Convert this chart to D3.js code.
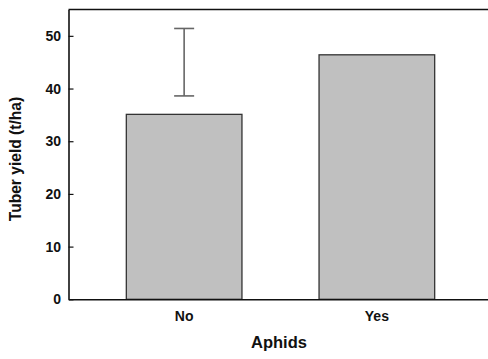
<!DOCTYPE html>
<html><head><meta charset="utf-8">
<script src="https://cdn.jsdelivr.net/npm/d3@7"></script>
<style>body{margin:0;background:#fff}svg{display:block}text{font-family:"Liberation Sans",Arial,sans-serif;font-weight:bold}</style>
</head><body><svg id="c" width="488" height="359"></svg>
<script>
const categories = ["No", "Yes"];
const values = [35.1, 46.4];
const errLow = [38.6, null];
const errHigh = [51.4, null];
const yTicks = [0, 10, 20, 30, 40, 50];

const svg = d3.select("#c");
const L = 68.5, R = 492.5, T = 9.5, B = 299.3;
const x = d3.scaleBand().domain(categories).range([L, R]).paddingInner(0.4).paddingOuter(0.3);
const y = d3.scaleLinear().domain([0, 55]).range([B, T]);

// bars
svg.selectAll("rect.bar").data(categories).join("rect").attr("class","bar")
  .attr("x", d => x(d)).attr("width", x.bandwidth())
  .attr("y", (d,i) => y(values[i])).attr("height", (d,i) => y(0) - y(values[i]))
  .attr("fill", "#c0c0c0").attr("stroke", "#333").attr("stroke-width", 1.3);

// error bars
const eb = categories.map((d,i) => ({c:d, lo:errLow[i], hi:errHigh[i]})).filter(e => e.lo != null);
const g = svg.append("g").attr("stroke", "#666").attr("stroke-width", 1.6);
eb.forEach(e => {
  const cx = x(e.c) + x.bandwidth()/2;
  g.append("line").attr("x1", cx).attr("x2", cx).attr("y1", y(e.lo)).attr("y2", y(e.hi));
  g.append("line").attr("x1", cx-10).attr("x2", cx+10).attr("y1", y(e.lo)).attr("y2", y(e.lo));
  g.append("line").attr("x1", cx-10).attr("x2", cx+10).attr("y1", y(e.hi)).attr("y2", y(e.hi));
});

// top border
svg.append("line").attr("x1", L).attr("x2", R).attr("y1", T).attr("y2", T).attr("stroke","#111").attr("stroke-width",1.6);

// y axis
const ya = svg.append("g").attr("transform", `translate(${L},0)`)
  .call(d3.axisLeft(y).tickValues(yTicks).tickSizeInner(-5).tickSizeOuter(0).tickPadding(7.5));
ya.select(".domain").attr("stroke","#111").attr("stroke-width",1.6);
ya.selectAll(".tick line").attr("stroke","#111").attr("stroke-width",1.2);
ya.selectAll(".tick text").attr("fill","#111").style("font-size","14px").style("font-family",'"Liberation Sans",Arial,sans-serif').style("font-weight","bold");

// x axis
const xa = svg.append("g").attr("transform", `translate(0,${B})`)
  .call(d3.axisBottom(x).tickSize(0).tickPadding(12));
xa.select(".domain").attr("stroke","#111").attr("stroke-width",1.6);
xa.selectAll(".tick text").attr("fill","#111").style("font-size","14px").style("font-family",'"Liberation Sans",Arial,sans-serif').style("font-weight","bold");

// titles
svg.append("text").attr("x", 279).attr("y", 348).attr("text-anchor","middle").attr("fill","#111").style("font-size","16.5px").text("Aphids");
svg.append("text").attr("transform","translate(21,159) rotate(-90)").attr("text-anchor","middle").attr("fill","#111").style("font-size","15.6px").text("Tuber yield (t/ha)");
</script></body></html>
